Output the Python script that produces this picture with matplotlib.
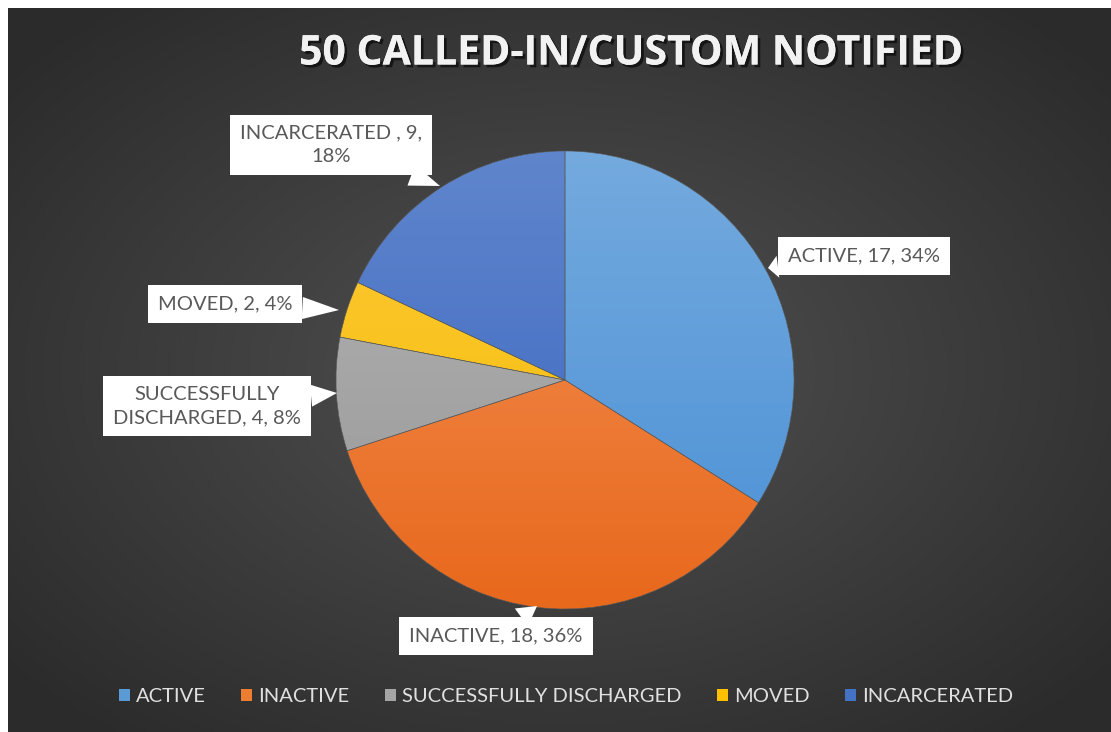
import numpy as np
import matplotlib
matplotlib.use("Agg")
import matplotlib.pyplot as plt
from matplotlib.patches import Patch
import matplotlib.patheffects as pe

title = "50 CALLED-IN/CUSTOM NOTIFIED"
categories = ["ACTIVE", "INACTIVE", "SUCCESSFULLY DISCHARGED", "MOVED", "INCARCERATED"]
counts = [17, 18, 4, 2, 9]
label_texts = ["ACTIVE, 17, 34%", "INACTIVE, 18, 36%", "SUCCESSFULLY\nDISCHARGED, 4, 8%",
               "MOVED, 2, 4%", "INCARCERATED , 9,\n18%"]

# top / bottom colours of each slice gradient
top_cols = ["#74aade", "#f39359", "#b4b4b4", "#ffc93a", "#5f86cc"]
bot_cols = ["#4a90d6", "#e8681c", "#979797", "#f2bc00", "#3863c0"]
legend_cols = ["#5b9bd5", "#ed7d31", "#a5a5a5", "#ffc000", "#4472c4"]

W, H = 1111, 732
fig = plt.figure(figsize=(W / 100, H / 100), dpi=100, facecolor="white")
ax = fig.add_axes([0, 0, 1, 1])

# dark radial background
yy, xx = np.mgrid[0:300, 0:450]
r = np.hypot((xx - 225) / 225, (yy - 150) / 150)
bg = 0.32 - 0.15 * np.clip(r / 1.3, 0, 1)
ax.imshow(np.dstack([bg, bg, bg]), extent=[8, W, 0, H - 8], aspect="auto", zorder=0)

cx, cy, rad = 565, H - 380, 229
wedges, _ = ax.pie(counts, startangle=90, counterclock=False, center=(cx, cy), radius=rad,
                   colors=legend_cols, frame=True,
                   wedgeprops=dict(edgecolor="#5a5a5a", linewidth=0.4))
ax.set_xlim(0, W)
ax.set_ylim(0, H)
ax.set_aspect("auto")
ax.axis("off")

g = np.linspace(0, 1, 256)[:, None]
for w, c1, c2 in zip(wedges, top_cols, bot_cols):
    a = np.array(matplotlib.colors.to_rgb(c1))
    b = np.array(matplotlib.colors.to_rgb(c2))
    img = a[None, None, :] * (1 - g[:, :, None]) + b[None, None, :] * g[:, :, None]
    im = ax.imshow(img, extent=[cx - rad, cx + rad, cy - rad, cy + rad], aspect="auto", zorder=2)
    im.set_clip_path(w)
    w.set_zorder(3)
    w.set_facecolor("none")

# callout labels: (box centre, point on pie)
box_xy = [(864, 256), (496, 636), (207, 406), (225, 304), (331, 145)]
tip_xy = [(768, 268), (537, 606), (337, 393), (339, 310), (440, 186)]
for txt, (bx, by), (tx, ty) in zip(label_texts, box_xy, tip_xy):
    ax.annotate(txt, xy=(tx, H - ty), xytext=(bx, H - by), ha="center", va="center",
                fontsize=14.5, color="#595959", family="Lato", linespacing=1.45, zorder=5,
                bbox=dict(boxstyle="square,pad=0.5", fc="white", ec="none"),
                arrowprops=dict(arrowstyle="wedge,tail_width=1.1,shrink_factor=0.5",
                                fc="white", ec="none", shrinkA=0, shrinkB=0))

ax.text(631, H - 54, title, ha="center", va="center", fontsize=29.5, fontweight="bold",
        family="Open Sans", color="#f2f2f2", zorder=5,
        path_effects=[pe.withSimplePatchShadow(offset=(2, -2), shadow_rgbFace="black", alpha=0.6),
                      pe.Normal()])

handles = [Patch(facecolor=c, edgecolor="none") for c in legend_cols]
fig.legend(handles, categories, loc="center", bbox_to_anchor=(566 / W, 1 - 697 / H), ncol=5,
           frameon=False, labelcolor="#e0e0e0", prop=dict(family="Lato", size=14.5),
           handlelength=0.55, handleheight=0.55, handletextpad=0.3, columnspacing=1.75)

fig.savefig("out.png", dpi=100, facecolor="white")
